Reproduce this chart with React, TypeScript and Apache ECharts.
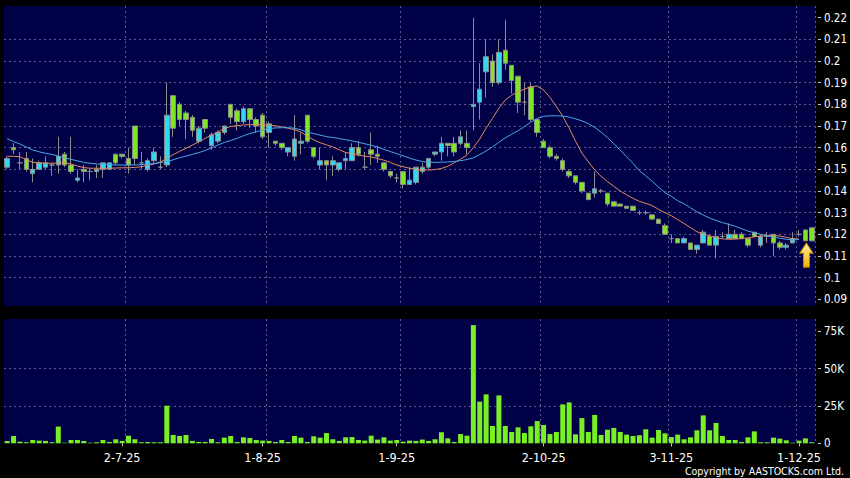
import React, { useEffect, useRef } from 'react';
import * as echarts from 'echarts';

// x-axis tick labels and the candle index each one sits on
const tickLabels = ['2-7-25', '1-8-25', '1-9-25', '2-10-25', '3-11-25', '1-12-25'];
const tickIndex = [18, 40, 61, 84, 104, 124];
// vertical grid lines (left edge of these candles)
const gridLineIndex = [19, 41, 62, 84, 104, 124];
const priceTicks = [0.09, 0.1, 0.11, 0.12, 0.13, 0.14, 0.15, 0.16, 0.17, 0.18, 0.19, 0.2, 0.21, 0.22];
const volumeTicks = [0, 25000, 50000, 75000];

// [open, close, low, high]
const candles: number[][] = [
  [0.151, 0.155, 0.150, 0.156], [0.160, 0.159, 0.157, 0.162], [0.153, 0.153, 0.150, 0.158], [0.155, 0.150, 0.149, 0.158],
  [0.148, 0.150, 0.144, 0.155], [0.150, 0.153, 0.150, 0.154], [0.151, 0.153, 0.150, 0.156], [0.152, 0.152, 0.147, 0.153],
  [0.152, 0.156, 0.148, 0.165], [0.157, 0.152, 0.151, 0.158], [0.152, 0.149, 0.148, 0.165], [0.145, 0.146, 0.144, 0.150],
  [0.150, 0.149, 0.144, 0.152], [0.149, 0.149, 0.145, 0.150], [0.149, 0.150, 0.146, 0.152], [0.150, 0.153, 0.146, 0.153],
  [0.150, 0.153, 0.150, 0.153], [0.157, 0.153, 0.152, 0.157], [0.157, 0.156, 0.155, 0.157], [0.155, 0.152, 0.148, 0.160],
  [0.170, 0.155, 0.152, 0.170], [0.153, 0.153, 0.150, 0.158], [0.150, 0.154, 0.149, 0.155], [0.154, 0.158, 0.153, 0.160],
  [0.151, 0.151, 0.150, 0.156], [0.152, 0.175, 0.151, 0.190], [0.184, 0.169, 0.165, 0.184], [0.180, 0.173, 0.170, 0.181],
  [0.176, 0.173, 0.164, 0.177], [0.174, 0.168, 0.165, 0.175], [0.163, 0.169, 0.162, 0.170], [0.173, 0.169, 0.167, 0.173],
  [0.161, 0.166, 0.159, 0.167], [0.163, 0.167, 0.162, 0.168], [0.167, 0.170, 0.166, 0.170], [0.180, 0.174, 0.171, 0.180],
  [0.177, 0.172, 0.168, 0.178], [0.172, 0.178, 0.171, 0.179], [0.178, 0.173, 0.169, 0.178], [0.173, 0.170, 0.167, 0.174],
  [0.175, 0.165, 0.164, 0.176], [0.167, 0.171, 0.160, 0.172], [0.163, 0.162, 0.161, 0.163], [0.162, 0.160, 0.159, 0.162],
  [0.158, 0.160, 0.156, 0.160], [0.156, 0.164, 0.154, 0.175], [0.162, 0.163, 0.157, 0.167], [0.175, 0.163, 0.162, 0.175],
  [0.160, 0.156, 0.155, 0.160], [0.152, 0.154, 0.150, 0.160], [0.154, 0.152, 0.145, 0.154], [0.152, 0.154, 0.147, 0.156],
  [0.150, 0.153, 0.149, 0.153], [0.154, 0.155, 0.150, 0.158], [0.154, 0.160, 0.154, 0.162], [0.160, 0.157, 0.156, 0.163],
  [0.151, 0.151, 0.150, 0.158], [0.159, 0.157, 0.152, 0.167], [0.157, 0.156, 0.153, 0.161], [0.153, 0.150, 0.149, 0.153],
  [0.149, 0.147, 0.146, 0.149], [0.146, 0.146, 0.144, 0.148], [0.149, 0.143, 0.141, 0.149], [0.143, 0.145, 0.143, 0.151],
  [0.144, 0.151, 0.143, 0.151], [0.149, 0.151, 0.148, 0.153], [0.151, 0.155, 0.150, 0.155], [0.157, 0.158, 0.156, 0.158],
  [0.158, 0.162, 0.154, 0.165], [0.162, 0.161, 0.156, 0.162], [0.162, 0.158, 0.156, 0.165], [0.162, 0.165, 0.161, 0.168],
  [0.162, 0.160, 0.157, 0.168], [0.179, 0.180, 0.168, 0.220], [0.181, 0.187, 0.173, 0.199], [0.195, 0.202, 0.183, 0.210],
  [0.200, 0.190, 0.188, 0.203], [0.190, 0.204, 0.189, 0.210], [0.205, 0.199, 0.196, 0.219], [0.198, 0.191, 0.185, 0.198],
  [0.193, 0.181, 0.176, 0.193], [0.181, 0.181, 0.175, 0.190], [0.188, 0.173, 0.172, 0.190], [0.173, 0.167, 0.165, 0.173],
  [0.163, 0.160, 0.160, 0.164], [0.160, 0.156, 0.155, 0.161], [0.156, 0.155, 0.154, 0.157], [0.154, 0.150, 0.149, 0.155],
  [0.149, 0.147, 0.146, 0.150], [0.147, 0.144, 0.143, 0.147], [0.144, 0.140, 0.139, 0.144], [0.139, 0.136, 0.136, 0.139],
  [0.139, 0.141, 0.137, 0.149], [0.140, 0.140, 0.139, 0.141], [0.139, 0.134, 0.133, 0.139], [0.135, 0.133, 0.133, 0.135],
  [0.134, 0.133, 0.133, 0.134], [0.133, 0.132, 0.132, 0.133], [0.133, 0.131, 0.131, 0.133], [0.130, 0.130, 0.129, 0.131],
  [0.130, 0.130, 0.129, 0.131], [0.129, 0.127, 0.127, 0.129], [0.127, 0.125, 0.125, 0.127], [0.124, 0.120, 0.120, 0.125],
  [0.118, 0.118, 0.116, 0.120], [0.118, 0.116, 0.116, 0.118], [0.116, 0.118, 0.116, 0.119], [0.116, 0.113, 0.113, 0.116],
  [0.113, 0.115, 0.111, 0.115], [0.116, 0.121, 0.116, 0.122], [0.119, 0.115, 0.115, 0.120], [0.115, 0.119, 0.109, 0.122],
  [0.119, 0.119, 0.118, 0.121], [0.118, 0.120, 0.118, 0.125], [0.120, 0.118, 0.118, 0.122], [0.120, 0.118, 0.118, 0.121],
  [0.118, 0.115, 0.114, 0.118], [0.121, 0.119, 0.119, 0.121], [0.115, 0.119, 0.114, 0.120], [0.119, 0.119, 0.116, 0.121],
  [0.120, 0.116, 0.110, 0.120], [0.116, 0.114, 0.113, 0.117], [0.114, 0.115, 0.113, 0.116], [0.116, 0.118, 0.116, 0.121],
  [0.120, 0.120, 0.119, 0.122], [0.122, 0.117, 0.117, 0.122], [0.123, 0.117, 0.117, 0.123],
];

const volumes = [
  1600, 4900, 1100, 700, 2200, 1800, 1600, 700, 11200, 300,
  2200, 2200, 1600, 400, 700, 2200, 900, 2700, 1600, 5100,
  2700, 700, 900, 700, 700, 25200, 5600, 4900, 5600, 1600,
  900, 900, 2900, 700, 3800, 4900, 900, 4000, 3600, 2200,
  1800, 1600, 900, 2200, 900, 4900, 3800, 900, 4700, 3800,
  6900, 2700, 1600, 4000, 4200, 2200, 1800, 5100, 2500, 4000,
  1800, 2200, 1100, 1800, 1600, 2500, 1600, 2700, 7400, 3300,
  900, 6200, 5100, 79200, 27900, 32800, 11600, 32100, 11600, 7600,
  10700, 6900, 11400, 14900, 12300, 6200, 7600, 26100, 27400, 6000,
  16900, 7600, 19000, 5600, 9100, 10300, 7600, 5800, 4900, 5400,
  9400, 3800, 8900, 6700, 4200, 5800, 2700, 4000, 8700, 18700,
  8700, 13600, 4900, 2200, 2200, 900, 4000, 8000, 700, 700,
  3800, 3100, 2000, 400, 1800, 3300, 700,
];

// short moving average (orange)
const maShort = [
  0.156, 0.156, 0.1558, 0.1545, 0.1532, 0.153, 0.1528, 0.1528, 0.153, 0.1531,
  0.1525, 0.1515, 0.1508, 0.1505, 0.1505, 0.1505, 0.1505, 0.1506, 0.1507, 0.1507,
  0.1509, 0.1512, 0.1517, 0.1525, 0.1534, 0.155, 0.1568, 0.1583, 0.1597, 0.1612,
  0.1627, 0.1643, 0.1658, 0.1672, 0.1688, 0.1698, 0.1702, 0.1705, 0.1706, 0.1707,
  0.1707, 0.1704, 0.1701, 0.1696, 0.169, 0.1683, 0.1672, 0.1652, 0.1636, 0.1623,
  0.1613, 0.1603, 0.159, 0.1578, 0.1571, 0.1565, 0.1561, 0.1557, 0.155, 0.1542,
  0.1532, 0.152, 0.1512, 0.1505, 0.15, 0.1497, 0.1497, 0.1499, 0.1504, 0.1514,
  0.153, 0.1547, 0.1566, 0.16, 0.164, 0.169, 0.1735, 0.1782, 0.182, 0.1842,
  0.1858, 0.187, 0.1882, 0.1884, 0.1866, 0.1832, 0.179, 0.1745, 0.169, 0.163,
  0.1575, 0.1535, 0.1497, 0.1468, 0.1443, 0.1422, 0.14, 0.1382, 0.1366, 0.1352,
  0.1343, 0.1333, 0.1315, 0.13, 0.1286, 0.1268, 0.125, 0.1231, 0.1212, 0.1202,
  0.1193, 0.1183, 0.1179, 0.1177, 0.1178, 0.118, 0.1184, 0.1188, 0.1192, 0.1195,
  0.1195, 0.1192, 0.1186, 0.118, 0.1178,
];

// long moving average (blue)
const maLong = [
  0.1641, 0.1628, 0.1617, 0.1603, 0.1589, 0.1581, 0.1574, 0.1569, 0.1561, 0.1553,
  0.1546, 0.1539, 0.1532, 0.1528, 0.1525, 0.1523, 0.1522, 0.152, 0.152, 0.152,
  0.152, 0.1522, 0.1524, 0.1527, 0.1531, 0.1535, 0.1544, 0.1553, 0.1561, 0.1569,
  0.1577, 0.1587, 0.1599, 0.1612, 0.1624, 0.1633, 0.1643, 0.1655, 0.1665, 0.1673,
  0.1681, 0.1688, 0.1691, 0.1692, 0.1692, 0.169, 0.1682, 0.1672, 0.1665, 0.1658,
  0.1651, 0.1647, 0.1642, 0.1637, 0.1631, 0.1625, 0.1618, 0.1611, 0.1603, 0.1592,
  0.1582, 0.1572, 0.1562, 0.1552, 0.1543, 0.1536, 0.1533, 0.1532, 0.1533, 0.1534,
  0.1536, 0.154, 0.1545, 0.1553, 0.1568, 0.1585, 0.1603, 0.1625, 0.1645, 0.1662,
  0.1678, 0.1697, 0.1718, 0.1735, 0.1745, 0.1747, 0.1747, 0.1746, 0.1741, 0.1733,
  0.1724, 0.1711, 0.1694, 0.1672, 0.1647, 0.1618, 0.1589, 0.1558, 0.1528, 0.1493,
  0.147, 0.1445, 0.1418, 0.1393, 0.1376, 0.1355, 0.1341, 0.1322, 0.1304, 0.1289,
  0.1275, 0.1264, 0.1254, 0.1246, 0.1237, 0.1226, 0.1215, 0.1207, 0.12, 0.1194,
  0.1187, 0.1182, 0.1177, 0.1174, 0.1176,
];

const FONT = "'DejaVu Sans Condensed', 'DejaVu Sans', sans-serif";
const PLOT_BG = '#000046';
const UP = '#30d8f0';
const DOWN = '#7ee622';
const GRID_LINE = { color: '#5a5a8c', width: 1, type: [2, 3] as number[] };

export default function App() {
  const ref = useRef<HTMLDivElement>(null);

  useEffect(() => {
    if (!ref.current) return;
    const chart = echarts.init(ref.current, null, { renderer: 'svg' });
    const cats = candles.map((_, i) => String(i));
    const labelSet = new Set(tickIndex);
    const gridSet = new Set(gridLineIndex);
    const labelMap = new Map<number, string>();
    tickIndex.forEach((idx, k) => labelMap.set(idx, tickLabels[k]));
    const last = candles.length - 1;
    const arrowY = candles[last][2] - 0.0066;

    const option: any = {
      animation: false,
      backgroundColor: '#000000',
      grid: [
        { left: 4, top: 6, width: 811, height: 300, show: true, backgroundColor: PLOT_BG, borderWidth: 0 },
        { left: 4, top: 319, width: 811, height: 124.3, show: true, backgroundColor: PLOT_BG, borderWidth: 0 },
      ],
      xAxis: [
        {
          type: 'category', gridIndex: 0, data: cats, boundaryGap: true,
          axisLine: { show: false }, axisTick: { show: false }, axisLabel: { show: false },
          splitLine: { show: true, interval: (i: number) => gridSet.has(i), lineStyle: GRID_LINE },
        },
        {
          type: 'category', gridIndex: 1, data: cats, boundaryGap: true, offset: 3,
          axisLine: { show: false },
          axisTick: { show: true, alignWithLabel: true, interval: (i: number) => labelSet.has(i), length: 3, lineStyle: { color: '#c8c8c8' } },
          axisLabel: {
            show: true, interval: (i: number) => labelSet.has(i),
            formatter: (v: string) => labelMap.get(Number(v)) ?? '',
            color: '#ffffff', fontSize: 12.5, fontFamily: FONT, margin: 5,
          },
          splitLine: { show: true, interval: (i: number) => gridSet.has(i), lineStyle: GRID_LINE },
        },
      ],
      yAxis: [
        {
          type: 'value', gridIndex: 0, position: 'right', min: 0.0869, max: 0.2254, splitNumber: 14, offset: 3,
          axisLine: { show: false },
          axisTick: { show: true, length: 3, customValues: priceTicks, lineStyle: { color: '#c8c8c8' } },
          axisLabel: { customValues: priceTicks, color: '#ffffff', fontSize: 11.5, fontFamily: FONT, margin: 6 },
          splitLine: { show: true, showMinLine: false, showMaxLine: false, lineStyle: GRID_LINE },
        },
        {
          type: 'value', gridIndex: 1, position: 'right', min: 0, max: 83300, interval: 25000, offset: 3,
          axisLine: { show: false },
          axisTick: { show: true, length: 3, customValues: volumeTicks, lineStyle: { color: '#c8c8c8' } },
          axisLabel: {
            customValues: volumeTicks, color: '#ffffff', fontSize: 11.5, fontFamily: FONT, margin: 6,
            formatter: (v: number) => (v === 0 ? '0' : `${v / 1000}K`),
          },
          splitLine: { show: true, showMinLine: false, showMaxLine: false, lineStyle: GRID_LINE },
        },
      ],
      series: [
        {
          type: 'candlestick', xAxisIndex: 0, yAxisIndex: 0, data: candles, barWidth: 5,
          itemStyle: { color: UP, color0: DOWN, borderColor: '#8c8c8c', borderColor0: '#8c8c8c', borderWidth: 1 },
          markPoint: {
            silent: true,
            label: { show: false },
            data: [{
              coord: [last - 1, arrowY],
              symbol: 'path://M6.5,0 L13,10 L9.5,10 L9.5,24 L3.5,24 L3.5,10 L0,10 Z',
              symbolSize: [13, 24],
              symbolOffset: [1, 0],
              itemStyle: {
                color: new echarts.graphic.LinearGradient(0, 0, 0, 1, [
                  { offset: 0, color: '#fff2a0' }, { offset: 1, color: '#f5b000' },
                ]),
                borderColor: '#d08a00', borderWidth: 1,
              },
            }],
          },
        },
        {
          type: 'line', xAxisIndex: 0, yAxisIndex: 0, data: maShort, symbol: 'none', z: 3,
          lineStyle: { color: '#e4895c', width: 1 },
        },
        {
          type: 'line', xAxisIndex: 0, yAxisIndex: 0, data: maLong, symbol: 'none', z: 3,
          lineStyle: { color: '#48a8e8', width: 1 },
        },
        {
          type: 'bar', xAxisIndex: 1, yAxisIndex: 1, data: volumes, barWidth: 5,
          itemStyle: { color: '#78f024' },
        },
      ],
      graphic: [
        {
          type: 'text', right: 6, top: 465,
          style: { text: 'Copyright by AASTOCKS.com Ltd.', fill: '#ffffff', fontSize: 10.5, fontFamily: FONT },
        },
      ],
    };
    chart.setOption(option);
    return () => chart.dispose();
  }, []);

  return (
    <div
      ref={ref}
      style={{ position: 'absolute', left: 0, top: 0, width: 850, height: 478, background: '#000' }}
    />
  );
}
